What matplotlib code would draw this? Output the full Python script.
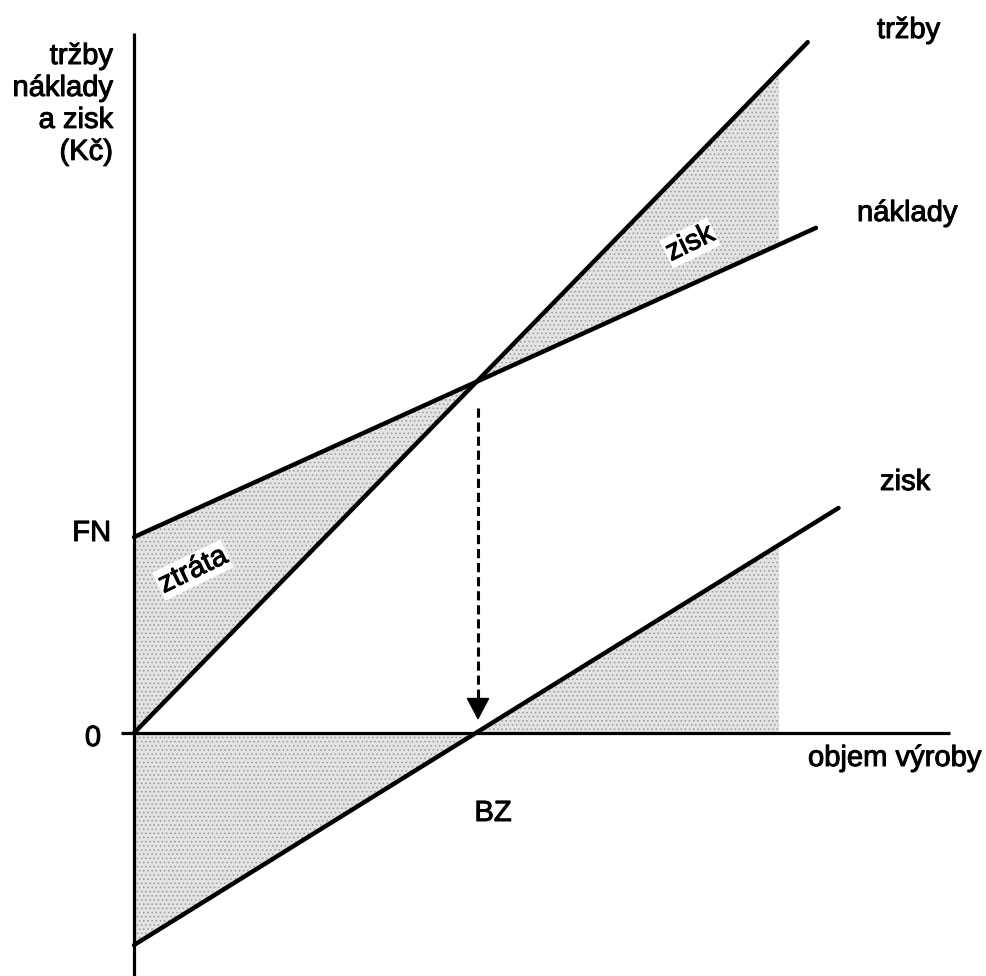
import numpy as np
import matplotlib.pyplot as plt
import matplotlib.patheffects as pe

plt.rcParams['font.family'] = ['Liberation Sans', 'DejaVu Sans']
plt.rcParams['hatch.color'] = '#9a9a9a'
plt.rcParams['hatch.linewidth'] = 0.6

# hodnoty prímek (objem výroby -> Kč), bod zvratu BZ
bz = 10.0
konec_stinu = 18.86
trzby_x = [0, 19.7]
trzby_y = [0, 20.2]
naklady_x = [0, 19.94]
naklady_y = [5.73, 14.77]
zisk_x = [0, 20.6]
zisk_y = [-6.2, 6.58]
fn = naklady_y[0]

# prevod pixelu obrazku na souradnice grafu
def px(x, y):
    return (x - 134) / 34.2, (733 - y) / 34.2

fig = plt.figure(figsize=(9.87, 9.76), dpi=100)
ax = fig.add_axes([0, 0, 1, 1])
ax.set_xlim(px(0, 0)[0], px(987, 0)[0])
ax.set_ylim(px(0, 976)[1], px(0, 0)[1])
ax.axis('off')

# stinovane plochy
xs = np.linspace(0, konec_stinu, 100)
t = np.interp(xs, trzby_x, trzby_y)
n = np.interp(xs, naklady_x, naklady_y)
z = np.interp(xs, zisk_x, zisk_y)
ax.fill_between(xs, t, n, facecolor='#e3e3e3', hatch='....', lw=0, edgecolor='#9a9a9a')
ax.fill_between(xs, z, 0, facecolor='#e3e3e3', hatch='....', lw=0, edgecolor='#9a9a9a')

# osy
x0, y_top = px(134, 33)
_, y_bot = px(134, 976)
ax.plot([0, 0], [y_bot, y_top], color='black', lw=2.3, solid_capstyle='butt')
ax.plot([px(121, 0)[0], px(950, 0)[0]], [0, 0], color='black', lw=2.3, solid_capstyle='butt')

# primky
ax.plot(trzby_x, trzby_y, color='black', lw=3.2, solid_capstyle='round')
ax.plot(naklady_x, naklady_y, color='black', lw=3.2, solid_capstyle='round')
ax.plot(zisk_x, zisk_y, color='black', lw=3.2, solid_capstyle='round')

# sipka k bodu zvratu
ax.plot([px(478, 0)[0]] * 2, [px(0, 408)[1], px(0, 702)[1]], color='black', lw=2.2,
        dashes=(3, 1.6))
ax.annotate('', xy=px(478, 720), xytext=px(478, 698),
            arrowprops=dict(arrowstyle='-|>,head_width=0.38,head_length=0.72',
                            mutation_scale=20, color='black', lw=1,
                            shrinkA=0, shrinkB=0))

fs = 21
efekt = [pe.withStroke(linewidth=0.7, foreground='black')]
ax.text(*px(113, 42), 'tržby\nnáklady\na zisk\n(Kč)', fontsize=fs, ha='right', va='top',
        linespacing=1.18, path_effects=efekt)
ax.text(*px(877, 30), 'tržby', fontsize=fs, ha='left', va='center', path_effects=efekt)
ax.text(*px(857, 213), 'náklady', fontsize=fs, ha='left', va='center', path_effects=efekt)
ax.text(*px(880, 482), 'zisk', fontsize=fs, ha='left', va='center', path_effects=efekt)
ax.text(*px(808, 758), 'objem výroby', fontsize=fs, ha='left', va='center', path_effects=efekt)
ax.text(*px(111, 533), 'FN', fontsize=fs, ha='right', va='center', path_effects=efekt)
ax.text(*px(101, 738), '0', fontsize=fs, ha='right', va='center', path_effects=efekt)
ax.text(*px(493, 813), 'BZ', fontsize=fs, ha='center', va='center', path_effects=efekt)
ax.text(*px(690, 243), 'zisk', fontsize=fs, ha='center', va='center', rotation=26,
        path_effects=efekt, bbox=dict(facecolor='white', edgecolor='none', pad=1))
ax.text(*px(193, 570), 'ztráta', fontsize=fs, ha='center', va='center', rotation=26,
        path_effects=efekt, bbox=dict(facecolor='white', edgecolor='none', pad=1))

fig.savefig('out.png', dpi=100)
